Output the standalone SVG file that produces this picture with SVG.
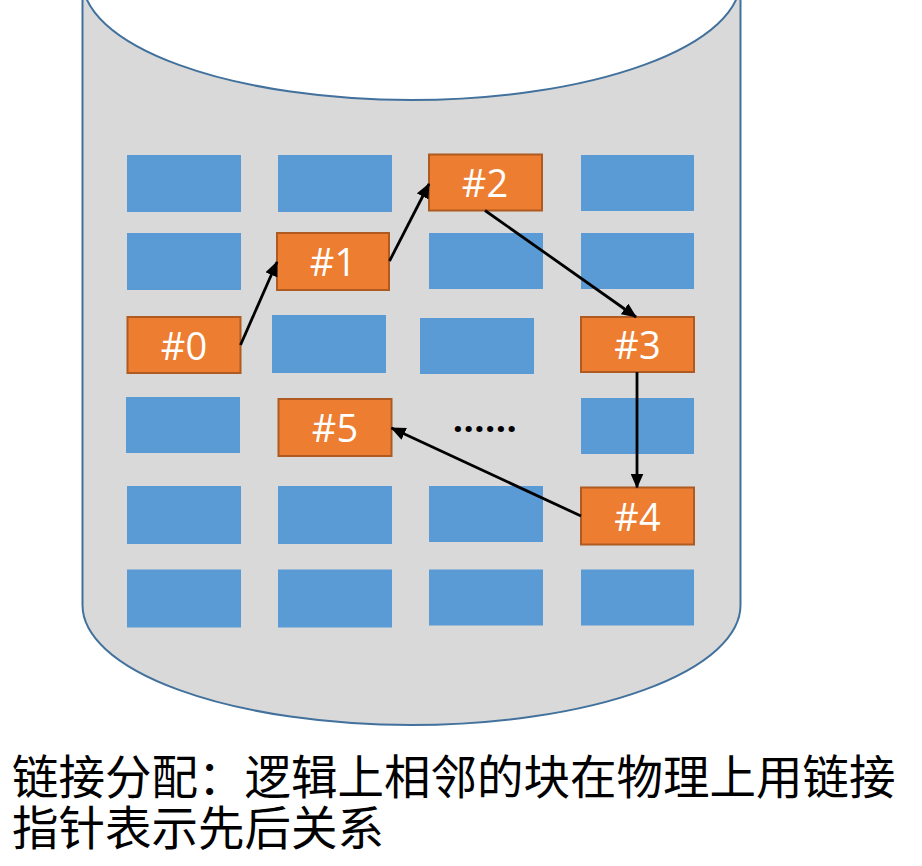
<svg xmlns="http://www.w3.org/2000/svg" width="922" height="866" viewBox="0 0 922 866">
<style>
.cyl{fill:#D9D9D9;stroke:#41719C;stroke-width:2}
.top{fill:#FFFFFF;stroke:#41719C;stroke-width:2}
.blk{fill:#5B9BD5}
.org{fill:#ED7D31;stroke:#AE5A21;stroke-width:2}
.lbl{font-family:"Open Sans","Liberation Sans",sans-serif;font-size:38px;fill:#FFFFFF;text-anchor:middle}
.dots{font-family:"Open Sans","Liberation Sans",sans-serif;font-size:36px;font-weight:bold;fill:#000000;text-anchor:middle;letter-spacing:0.5px}
.cap{font-family:"Liberation Sans","Noto Sans CJK SC",sans-serif;font-size:46.5px;fill:#000000}
.arr{fill:none;stroke:#000000;stroke-width:2.8;marker-end:url(#ah)}
</style>
<defs>
<marker id="ah" markerUnits="userSpaceOnUse" markerWidth="15" markerHeight="13" refX="14" refY="6.5" orient="auto">
<path d="M0,0 L15,6.5 L0,13 Z" fill="#000000"/>
</marker>
</defs>
<rect width="922" height="866" fill="#FFFFFF"/>
<g id="cylinder">
<path class="cyl" d="M82.5,-20 L82.5,605 A329,120 0 0 0 740.5,605 L740.5,-20 Z"/>
<ellipse class="top" cx="411.5" cy="-20" rx="329" ry="120"/>
</g>
<g id="blocks">
<rect class="blk" x="127" y="155" width="114" height="57"/>
<rect class="blk" x="278" y="155" width="114" height="57"/>
<rect class="blk" x="581" y="155" width="113" height="56"/>
<rect class="blk" x="127" y="233" width="114" height="57"/>
<rect class="blk" x="429" y="233" width="114" height="56"/>
<rect class="blk" x="581" y="233" width="113" height="56"/>
<rect class="blk" x="272" y="315" width="114" height="58"/>
<rect class="blk" x="420" y="318" width="114" height="56"/>
<rect class="blk" x="126" y="397" width="114" height="56"/>
<rect class="blk" x="581" y="398" width="113" height="56"/>
<rect class="blk" x="127" y="486" width="114" height="58"/>
<rect class="blk" x="278" y="486" width="114" height="58"/>
<rect class="blk" x="429" y="486" width="114" height="56"/>
<rect class="blk" x="127" y="569.5" width="114" height="58"/>
<rect class="blk" x="278" y="569.5" width="114" height="58"/>
<rect class="blk" x="429" y="569.5" width="114" height="56"/>
<rect class="blk" x="581" y="569.5" width="113" height="56"/>
</g>
<g id="n0"><rect class="org" x="127.5" y="317" width="113" height="56"/><text class="lbl" x="184" y="359.5">#0</text></g>
<g id="n1"><rect class="org" x="277" y="233" width="112" height="57"/><text class="lbl" x="333" y="276">#1</text></g>
<g id="n2"><rect class="org" x="429" y="154.5" width="113" height="56"/><text class="lbl" x="485" y="197">#2</text></g>
<g id="n3"><rect class="org" x="581" y="317" width="113" height="55"/><text class="lbl" x="637.5" y="359">#3</text></g>
<g id="n4"><rect class="org" x="581" y="487.5" width="113" height="57"/><text class="lbl" x="637.5" y="530.5">#4</text></g>
<g id="n5"><rect class="org" x="278.5" y="399" width="113" height="57"/><text class="lbl" x="335" y="442">#5</text></g>
<g id="ellipsis"><text class="dots" x="485" y="432">......</text></g>
<g id="connectors">
<line class="arr" x1="240.5" y1="345" x2="277" y2="262"/>
<line class="arr" x1="389.5" y1="261" x2="429" y2="184"/>
<line class="arr" x1="485" y1="210.5" x2="636" y2="317"/>
<line class="arr" x1="637" y1="372" x2="637" y2="487.5"/>
<line class="arr" x1="581" y1="516" x2="391.5" y2="428"/>
</g>
<g id="caption">
<text class="cap" x="12" y="794">链接分配：逻辑上相邻的块在物理上用链接</text>
<text class="cap" x="12" y="845">指针表示先后关系</text>
</g>
</svg>
